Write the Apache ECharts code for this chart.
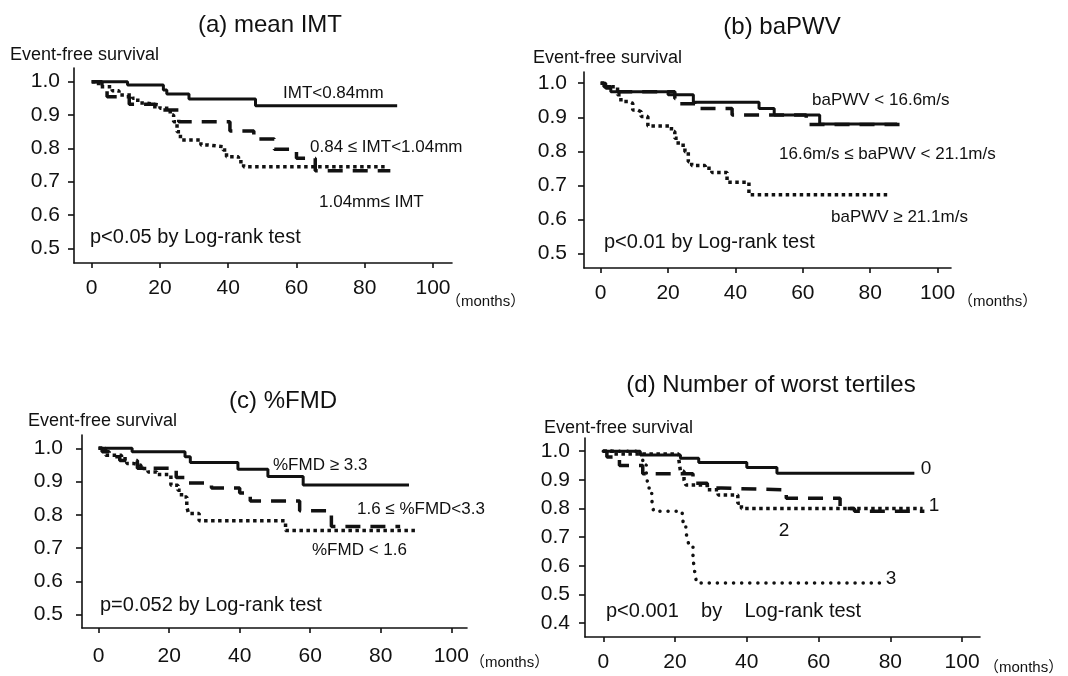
<!DOCTYPE html>
<html>
<head>
<meta charset="utf-8">
<script src="https://cdn.jsdelivr.net/npm/echarts@6/dist/echarts.min.js"></script>
<style>html,body{margin:0;padding:0;background:#fff;}#c{width:1068px;height:676px;}</style>
</head>
<body>
<div id="c"></div>
<script>
// ---- data (months, event-free survival) ----
const xTicks = [0, 20, 40, 60, 80, 100];
const yTicksABC = [0.5, 0.6, 0.7, 0.8, 0.9, 1.0];
const yTicksD = [0.4, 0.5, 0.6, 0.7, 0.8, 0.9, 1.0];

// (a) mean IMT
const imtLow = [[0,1.0],[10.5,0.99],[21,0.975],[22,0.963],[28.5,0.948],[48,0.928],[89.5,0.928]];
const imtMid = [[0,1.0],[3,0.99],[4.5,0.955],[11,0.932],[18.5,0.915],[25.5,0.88],[40.5,0.852],[47.5,0.828],[53.5,0.797],[60,0.77],[65.5,0.733],[87.5,0.733]];
const imtHigh = [[0,1],[2,0.985],[6,0.973],[8,0.96],[12,0.95],[13.5,0.936],[16,0.93],[20,0.92],[23,0.9],[24,0.88],[25,0.85],[26,0.825],[32,0.81],[34,0.805],[38.5,0.795],[39.5,0.775],[43,0.76],[44.5,0.745],[86,0.745]];

// (b) baPWV
const pwvLow = [[0,1],[1.5,0.985],[3,0.975],[20,0.966],[27.5,0.944],[47,0.926],[51.5,0.907],[65,0.88],[88,0.88]];
const pwvMid = [[0,1],[1,0.99],[3,0.975],[22,0.955],[23,0.94],[28,0.926],[39,0.907],[61,0.879],[89,0.879]];
const pwvHigh = [[0,1],[1.5,0.99],[5,0.966],[6,0.946],[8.5,0.941],[9.5,0.921],[11,0.916],[12,0.902],[14,0.874],[21,0.858],[22,0.838],[23,0.818],[25,0.799],[26,0.769],[27,0.758],[31,0.75],[33,0.738],[37.5,0.709],[44,0.672],[86,0.672]];

// (c) %FMD
const fmdHigh = [[0,1],[9.5,0.99],[24.5,0.975],[26,0.957],[39.5,0.937],[48,0.915],[58,0.89],[88,0.89]];
const fmdMid = [[0,1],[1,0.99],[3,0.975],[6,0.963],[11,0.94],[22,0.912],[25,0.896],[32,0.881],[40,0.866],[43,0.842],[57,0.812],[66,0.765],[85.5,0.765]];
const fmdLow = [[0,1],[2,0.979],[6.5,0.969],[8,0.954],[10,0.949],[12,0.939],[14,0.929],[16.5,0.921],[20.5,0.889],[22.5,0.874],[23.5,0.854],[25,0.824],[25.5,0.804],[28.5,0.782],[53,0.753],[90,0.753]];

// (d) Number of worst tertiles
const tert0 = [[0,1],[10.3,0.987],[21.5,0.975],[26.6,0.96],[40,0.943],[48.4,0.923],[86.7,0.923]];
const tert1 = [[0,1],[1,0.98],[4.5,0.95],[11,0.921],[25,0.888],[29,0.871],[33,0.865],[51,0.836],[66,0.8],[70,0.79],[89.5,0.79]];
const tert2 = [[0,1],[3,0.99],[21,0.975],[21.5,0.93],[22.5,0.9],[23,0.882],[29,0.865],[32,0.847],[37.5,0.818],[38.5,0.8],[89,0.8]];
const tert3 = [[0,1],[10,0.99],[11,0.952],[12,0.923],[12.5,0.871],[13.5,0.83],[14,0.79],[22,0.777],[22.3,0.748],[23,0.719],[23.5,0.69],[24,0.665],[25,0.626],[25.3,0.597],[25.6,0.568],[26,0.54],[77.5,0.54]];

// ---- chart ----
const FONT = '"Liberation Sans", Arial, "Noto Sans CJK JP", sans-serif';
const INK = '#111';

const grids = [
  {left: 74, top: 68, width: 378, height: 195},
  {left: 584, top: 72, width: 367, height: 196},
  {left: 82, top: 435, width: 385, height: 193},
  {left: 585, top: 438, width: 395, height: 199}
];
const xRanges = [[-5.19, 105.57], [-4.96, 103.98], [-4.71, 104.45], [-5.1, 105.0]];
const yRanges = [[0.456, 1.041], [0.457, 1.033], [0.46, 1.04], [0.351, 1.046]];
const yTickSets = [yTicksABC, yTicksABC, yTicksABC, yTicksD];
const xMargins = [15, 15, 18, 15];
const yMargins = [14, 17, 19, 15];

const xAxes = grids.map((g, i) => ({
  type: 'value', gridIndex: i, min: xRanges[i][0], max: xRanges[i][1],
  axisLine: {show: true, onZero: false, lineStyle: {color: INK, width: 1.6}},
  axisTick: {show: true, customValues: xTicks, length: 5, lineStyle: {color: INK, width: 1.6}},
  axisLabel: {customValues: xTicks, margin: xMargins[i], color: INK, fontSize: 21, fontFamily: FONT},
  splitLine: {show: false}
}));
const yAxes = grids.map((g, i) => ({
  type: 'value', gridIndex: i, min: yRanges[i][0], max: yRanges[i][1],
  axisLine: {show: true, onZero: false, lineStyle: {color: INK, width: 1.6}},
  axisTick: {show: true, customValues: yTickSets[i], length: 6, lineStyle: {color: INK, width: 1.6}},
  axisLabel: {customValues: yTickSets[i], margin: yMargins[i], color: INK, fontSize: 21, fontFamily: FONT,
    formatter: v => v.toFixed(1)},
  splitLine: {show: false}
}));

const SOLID = {type: 'solid', width: 3};
const DASH = {type: [15, 10], width: 3.5};
const DOT = {type: [3.5, 3.5], width: 3.5};
const ROUNDDOT = {type: [0.1, 8], width: 3.5, cap: 'round'};

function km(data, idx, style) {
  return {
    type: 'line', xAxisIndex: idx, yAxisIndex: idx, data: data, step: 'end',
    showSymbol: false, symbol: 'none', silent: true, animation: false,
    lineStyle: Object.assign({color: INK}, style)
  };
}

const series = [
  km(imtLow, 0, SOLID), km(imtMid, 0, DASH), km(imtHigh, 0, DOT),
  km(pwvLow, 1, SOLID), km(pwvMid, 1, DASH), km(pwvHigh, 1, DOT),
  km(fmdHigh, 2, SOLID), km(fmdMid, 2, DASH), km(fmdLow, 2, DOT),
  km(tert0, 3, SOLID), km(tert1, 3, DASH), km(tert2, 3, DOT), km(tert3, 3, ROUNDDOT)
];

function txt(x, y, s, size, align) {
  return {type: 'text', x: x, y: y, silent: true,
    style: {text: s, fill: INK, font: size + 'px ' + FONT, textAlign: align || 'left', textVerticalAlign: 'middle'}};
}

const texts = [
  // titles
  txt(270, 25, '(a) mean IMT', 24, 'center'),
  txt(782, 27, '(b) baPWV', 24, 'center'),
  txt(283, 401, '(c) %FMD', 24, 'center'),
  txt(771, 385, '(d) Number of worst tertiles', 24, 'center'),
  // y-axis names
  txt(10, 55, 'Event-free survival', 18),
  txt(533, 58, 'Event-free survival', 18),
  txt(28, 421, 'Event-free survival', 18),
  txt(544, 428, 'Event-free survival', 18),
  // x-axis units
  txt(446, 302, '（months）', 15),
  txt(958, 302, '（months）', 15),
  txt(470, 663, '（months）', 15),
  txt(984, 668, '（months）', 15),
  // curve labels (a)
  txt(283, 93, 'IMT<0.84mm', 17),
  txt(310, 147, '0.84 ≤ IMT<1.04mm', 17),
  txt(319, 202, '1.04mm≤ IMT', 17),
  txt(90, 237, 'p<0.05 by Log-rank test', 20),
  // (b)
  txt(812, 100, 'baPWV < 16.6m/s', 17),
  txt(779, 154, '16.6m/s ≤ baPWV < 21.1m/s', 17),
  txt(831, 217, 'baPWV ≥ 21.1m/s', 17),
  txt(604, 242, 'p<0.01 by Log-rank test', 20),
  // (c)
  txt(273, 465, '%FMD ≥ 3.3', 17),
  txt(357, 509, '1.6 ≤ %FMD<3.3', 17),
  txt(312, 550, '%FMD < 1.6', 17),
  txt(100, 605, 'p=0.052 by Log-rank test', 20),
  // (d)
  txt(926, 469, '0', 19, 'center'),
  txt(934, 506, '1', 19, 'center'),
  txt(784, 531, '2', 19, 'center'),
  txt(891, 579, '3', 19, 'center'),
  txt(606, 611, 'p<0.001    by    Log-rank test', 20)
];

const chart = echarts.init(document.getElementById('c'), null, {renderer: 'canvas'});
chart.setOption({
  backgroundColor: '#fff',
  animation: false,
  grid: grids,
  xAxis: xAxes,
  yAxis: yAxes,
  series: series,
  graphic: texts
});
</script>
</body>
</html>
